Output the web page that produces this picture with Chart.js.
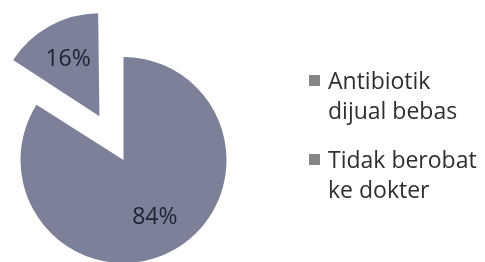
<!DOCTYPE html>
<html>
<head>
<meta charset="utf-8">
<script src="https://cdn.jsdelivr.net/npm/chart.js@4.4.1/dist/chart.umd.min.js"></script>
<style>
  html, body { margin: 0; padding: 0; background: #fff; }
  #wrap { position: relative; width: 485px; height: 262px; }
</style>
</head>
<body>
<div id="wrap"><canvas id="PieChart"></canvas></div>
<script>
// data
const categories = [["Antibiotik", "dijual bebas"], ["Tidak berobat", "ke dokter"]];
const percentValues = [84, 16];
const sliceOffsets = [0, 200]; // chart.js v4 moves a slice by offset / 4

const sliceColor = "#7c8098";
const legendBoxColor = "#858585";

// chart.js also grows an offset slice a bit, take that back so both slices keep the same radius
const keepRadius = {
    id: "keepRadius",
    afterDatasetUpdate(chart, args) {
        args.meta.data.forEach((arc) => {
            const off = (arc.options.offset || 0) / 4;
            if (!off) return;
            const fix = 1 - Math.sin(Math.min(Math.PI, arc.circumference));
            arc.outerRadius -= off * fix;
        });
    }
};

// percent labels inside the slices
const sliceLabels = {
    id: "sliceLabels",
    afterDatasetsDraw(chart) {
        const ctx = chart.ctx;
        const meta = chart.getDatasetMeta(0);
        const values = chart.data.datasets[0].data;
        const total = values.reduce((a, b) => a + b, 0);
        ctx.save();
        ctx.font = "23px 'Open Sans'";
        ctx.fillStyle = "#1d2233";
        ctx.textAlign = "center";
        ctx.textBaseline = "middle";
        meta.data.forEach((arc, i) => {
            const mid = (arc.startAngle + arc.endAngle) / 2;
            const shift = (arc.options.offset || 0) / 4;
            const r = 65 + shift;
            const text = Math.round(values[i] / total * 100) + "%";
            ctx.fillText(text, arc.x + Math.cos(mid) * r, arc.y + Math.sin(mid) * r);
        });
        ctx.restore();
    }
};

// legend on the right, labels wrapped over two lines
const sideLegend = {
    id: "sideLegend",
    afterDraw(chart) {
        const ctx = chart.ctx;
        const labels = chart.data.labels;
        ctx.save();
        ctx.font = "23px 'Open Sans'";
        ctx.textBaseline = "alphabetic";
        let y = 89;
        labels.forEach((lines) => {
            ctx.fillStyle = legendBoxColor;
            ctx.fillRect(309, y - 14, 11, 11);
            ctx.fillStyle = "#2f2f2f";
            lines.forEach((line, j) => {
                ctx.fillText(line, 328, y + j * 30);
            });
            y += 79;
        });
        ctx.restore();
    }
};

new Chart("PieChart", {
    type: "pie",
    data: {
        labels: categories,
        datasets: [{
            data: percentValues,
            backgroundColor: sliceColor,
            borderWidth: 0,
            offset: sliceOffsets,
            clip: false
        }]
    },
    options: {
        responsive: true,
        maintainAspectRatio: false,
        animation: false,
        radius: 103,
        layout: {
            padding: { left: 0, right: 238, top: 58, bottom: 0 }
        },
        plugins: {
            legend: { display: false },
            tooltip: { enabled: false }
        }
    },
    plugins: [keepRadius, sliceLabels, sideLegend]
});
</script>
</body>
</html>
